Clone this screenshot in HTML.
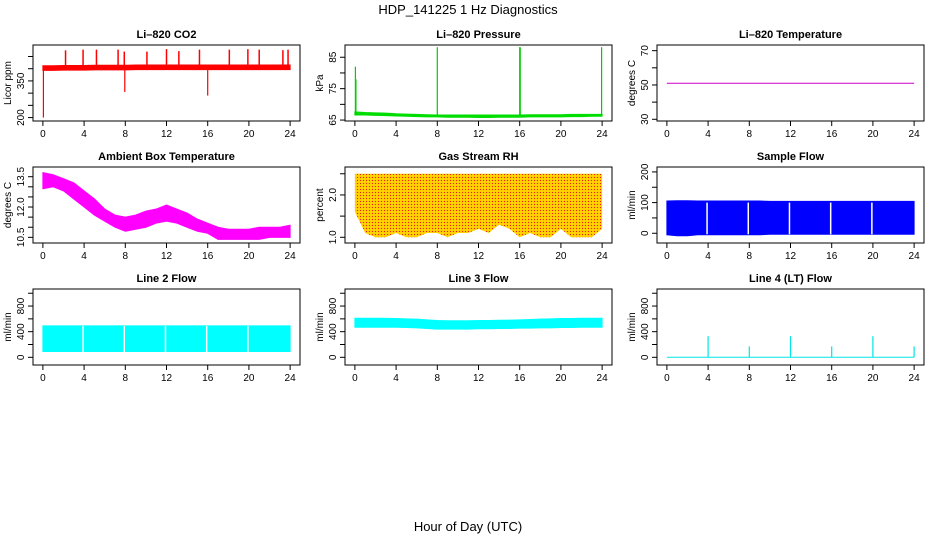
<!DOCTYPE html>
<html><head><meta charset="utf-8"><style>
html,body{margin:0;padding:0;background:#fff;}
svg{display:block;font-family:"Liberation Sans",Helvetica,sans-serif;}
</style></head><body>
<svg id="c" width="936" height="540" viewBox="0 0 936 540">
<defs>
<pattern id="rhpat" width="3" height="3" patternUnits="userSpaceOnUse">
<rect width="3" height="3" fill="#ffc800"/><rect width="1" height="1" fill="#f02010"/><rect x="1.5" y="1.5" width="1" height="1" fill="#ffee00"/>
</pattern>
</defs>
<text x="468" y="14" font-size="13" text-anchor="middle">HDP_141225  1 Hz Diagnostics</text>
<text x="468" y="531" font-size="13" text-anchor="middle">Hour of Day (UTC)</text>
</svg>
<script>
// ---- data ----
const hours = [0,1,2,3,4,5,6,7,8,9,10,11,12,13,14,15,16,17,18,19,20,21,22,23,24];
const xTicks = [0,4,8,12,16,20,24];
const co2Lo = [393,393,394,394,394,395,395,395,395,396,396,396,396,396,396,396,396,396,396,396,396,396,396,396,396];
const co2Hi = [412,412,413,413,413,414,414,414,414,415,415,415,415,415,415,415,415,415,415,415,415,415,415,415,415];
const co2SpikeHours = [2.2,3.9,5.2,7.3,7.9,10.1,12.0,13.2,15.2,18.1,19.9,21.0,23.3,23.8];
const co2SpikeVals = [475,478,478,478,470,470,480,472,478,478,480,478,476,478];
const co2DipHours = [0.05,7.95,16.0];
const co2DipVals = [200,305,290];
const presLo = [66.6,66.6,66.5,66.4,66.3,66.2,66.1,66.0,66.0,65.9,65.9,65.9,65.8,65.8,65.9,65.9,65.9,66.0,66.0,66.0,66.0,66.1,66.1,66.2,66.2];
const presHi = [67.6,67.4,67.3,67.2,67.0,66.9,66.8,66.7,66.6,66.6,66.6,66.6,66.6,66.6,66.6,66.6,66.6,66.7,66.7,66.7,66.7,66.8,66.8,66.8,66.8];
const presSpikeHours = [0.05,0.1,8.0,16.0,16.05,23.95];
const presSpikeVals = [82,78,88.2,88.2,88.2,88.2];
const tempVals = [51,51,51,51,51,51,51,51,51,51,51,51,51,51,51,51,51,51,51,51,51,51,51,51,51];
const ambLo = [12.9,13.0,12.8,12.4,12.0,11.6,11.3,11.0,10.8,10.9,11.0,11.2,11.3,11.2,11.0,10.8,10.7,10.4,10.4,10.4,10.4,10.4,10.5,10.5,10.5];
const ambHi = [13.7,13.6,13.4,13.2,12.8,12.4,11.9,11.6,11.5,11.6,11.8,11.9,12.1,11.9,11.7,11.4,11.2,11.0,10.9,10.9,10.9,11.0,11.0,11.0,11.1];
const rhLo = [1.6,1.1,1.0,1.0,1.1,1.0,1.0,1.1,1.1,1.0,1.1,1.1,1.2,1.1,1.3,1.2,1.0,1.1,1.0,1.0,1.2,1.0,1.0,1.0,1.2];
const rhHi = [2.5,2.5,2.5,2.5,2.5,2.5,2.5,2.5,2.5,2.5,2.5,2.5,2.5,2.5,2.5,2.5,2.5,2.5,2.5,2.5,2.5,2.5,2.5,2.5,2.5];
const sfLo = [-5,-8,-8,-5,-5,-5,-5,-5,-5,-5,-3,-3,-3,-3,-3,-3,-3,-3,-3,-3,-3,-3,-3,-3,-3];
const sfHi = [105,106,106,105,105,105,105,105,105,105,104,104,104,104,104,104,104,104,104,104,104,104,104,104,104];
const gapHours = [3.9,7.9,11.9,15.9,19.9];
const l2Lo = [90,90,90,90,90,90,90,90,90,90,90,90,90,90,90,90,90,90,90,90,90,90,90,90,90];
const l2Hi = [490,490,490,490,490,490,490,490,490,490,490,490,490,490,490,490,490,490,490,490,490,490,490,490,490];
const l3Lo = [470,470,470,470,470,465,460,450,440,440,440,440,445,445,450,450,455,455,460,460,465,465,470,470,470];
const l3Hi = [610,610,610,608,605,600,595,585,575,570,570,570,575,575,578,580,585,590,595,600,605,605,610,610,610];
const l4SpikeHours = [4,8,12,16,20,24];
const l4SpikeVals = [330,170,330,170,330,170];
const l4Base = [0,0,0,0,0,0,0,0,0,0,0,0,0,0,0,0,0,0,0,0,0,0,0,0,0];

const NS = "http://www.w3.org/2000/svg";
const svg = document.getElementById('c');
const colL = [33,345,657], rowT = [45,167,289], BW = 267, BH = 76;
function el(tag, attrs, parent){ const e=document.createElementNS(NS,tag); for(const k in attrs) e.setAttribute(k,attrs[k]); (parent||svg).appendChild(e); return e; }

function panel(col,row,title,ylab,ylim,yTicks,yLabels,name){
  const L=colL[col], T=rowT[row];
  const g=el('g',{});
  
  
  const xs = h => L + BW*(h+0.96)/25.92;
  const ys = v => T + BH - BH*(v-ylim[0])/(ylim[1]-ylim[0]);
  const t=el('text',{x:L+BW/2,y:T-7,'font-size':11,'font-weight':'bold','text-anchor':'middle'},g); t.textContent=title;
  
  
  const plot=el('g',{},g);
  
  
  const box=el('rect',{x:L,y:T,width:BW,height:BH,fill:'none',stroke:'#000','stroke-width':1},g);
  
  
  const xa=el('g',{},g);
  
  
  xTicks.forEach(h=>{ const x=xs(h);
    el('line',{x1:x,x2:x,y1:T+BH,y2:T+BH+5,stroke:'#000'},xa);
    const tx=el('text',{x:x,y:T+BH+16,'font-size':10,'text-anchor':'middle'},xa); tx.textContent=h; });
  const ya=el('g',{},g);
  
  
  yTicks.forEach((v,i)=>{ const y=ys(v);
    el('line',{x1:L,x2:L-5,y1:y,y2:y,stroke:'#000'},ya);
    if(yLabels[i]!==''){ const tx=el('text',{x:L-9,y:y,'font-size':10,'text-anchor':'middle',transform:`rotate(-90 ${L-9} ${y})`},ya); tx.textContent=yLabels[i]; }});
  const yl=el('text',{x:L-22,y:T+BH/2,'font-size':10,'text-anchor':'middle',transform:`rotate(-90 ${L-22} ${T+BH/2})`},g); yl.textContent=ylab;
  
  
  return {xs,ys,plot,L,T};
}
function band(p,lo,hi,fill){
  let d='';
  hours.forEach((h,i)=>{ d+=(i?'L':'M')+p.xs(h)+' '+p.ys(hi[i]); });
  for(let i=hours.length-1;i>=0;i--) d+='L'+p.xs(hours[i])+' '+p.ys(lo[i]);
  const e=el('path',{d:d+'Z',fill:fill,stroke:fill==='url(#rhpat)'?'none':fill,'stroke-width':1},p.plot);
  
  
}
function spikes(p,hs,vs,base,color,w){
  hs.forEach((h,i)=>{ const e=el('line',{x1:p.xs(h),x2:p.xs(h),y1:p.ys(base),y2:p.ys(vs[i]),stroke:color,'stroke-width':w||1.5},p.plot);
    
     });
}
function gaps(p,lo,hi){
  gapHours.forEach(h=>{ const e=el('line',{x1:p.xs(h),x2:p.xs(h),y1:p.ys(lo)+1,y2:p.ys(hi),stroke:'#fff','stroke-width':1.5},p.plot);
    
     });
}
function line(p,vals,color){
  const e=el('polyline',{points:hours.map((h,i)=>p.xs(h)+','+p.ys(vals[i])).join(' '),fill:'none',stroke:color,'stroke-width':1},p.plot);
  
  
}

let p=panel(0,0,'Li\u2013820 CO2','Licor ppm',[186,497],[200,250,300,350,400,450],['200','','','350','','']);
band(p,co2Lo,co2Hi,'#ff0000');
spikes(p,co2SpikeHours,co2SpikeVals,400,'#ff0000',1.5);
spikes(p,co2DipHours,co2DipVals,400,'#ff0000',1.2);
p=panel(1,0,'Li\u2013820 Pressure','kPa',[64.7,88.9],[65,70,75,80,85],['65','','75','','85']);
band(p,presLo,presHi,'#00dd00');
spikes(p,presSpikeHours,presSpikeVals,66.5,'#00cc00',1.2);
p=panel(2,0,'Li\u2013820 Temperature','degrees C',[29.0,73.3],[30,40,50,60,70],['30','','50','','70']);
line(p,tempVals,'#cc00cc');
p=panel(0,1,'Ambient Box Temperature','degrees C',[10.22,13.98],[10.5,11,11.5,12,12.5,13,13.5],['10.5','','','12.0','','','13.5']);
band(p,ambLo,ambHi,'#ff00ff');
p=panel(1,1,'Gas Stream RH','percent',[0.865,2.66],[1.0,1.5,2.0,2.5],['1.0','','2.0','']);
band(p,rhLo,rhHi,'url(#rhpat)');
p=panel(2,1,'Sample Flow','ml/min',[-31.7,216],[0,50,100,150,200],['0','','100','','200']);
band(p,sfLo,sfHi,'#0000ff');
gaps(p,0,100);
p=panel(0,2,'Line 2 Flow','ml/min',[-120,1066],[0,200,400,600,800,1000],['0','','400','','800','']);
band(p,l2Lo,l2Hi,'#00ffff');
gaps(p,90,490);
p=panel(1,2,'Line 3 Flow','ml/min',[-120,1066],[0,200,400,600,800,1000],['0','','400','','800','']);
band(p,l3Lo,l3Hi,'#00ffff');
p=panel(2,2,'Line 4 (LT) Flow','ml/min',[-120,1066],[0,200,400,600,800,1000],['0','','400','','800','']);
line(p,l4Base,'#00e5e5');
spikes(p,l4SpikeHours,l4SpikeVals,0,'#00e5e5',1.2);
</script>
</body></html>
